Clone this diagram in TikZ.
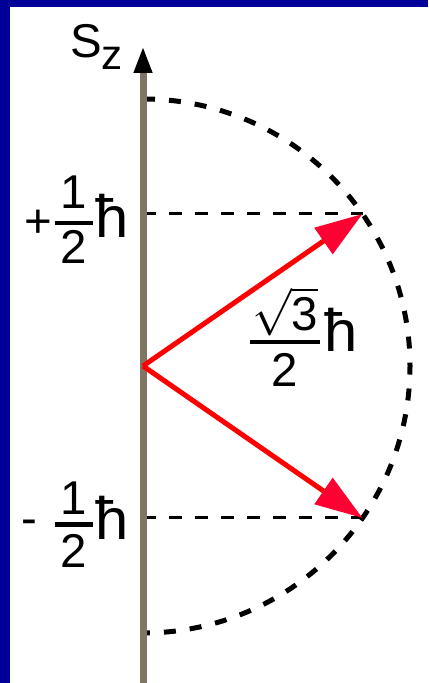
\documentclass[tikz,border=0pt]{standalone}
\usepackage{fix-cm}
\usepackage{amsmath}
\usepackage{fontspec}
\setmainfont{Liberation Sans}
\usetikzlibrary{arrows.meta}

\definecolor{frameblue}{RGB}{0,0,153}
\definecolor{axisgray}{RGB}{128,117,99}
\definecolor{vecred}{RGB}{255,0,0}
\definecolor{tipred}{RGB}{255,0,51}

\tikzset{
  lbl/.style={inner sep=0pt, anchor=base, font=\fontsize{27}{30}\selectfont},
  hb/.style={lbl, font=\fontsize{34}{36}\selectfont},
  fracbar/.style={line width=0.08cm},
  axis/.style={line width=0.14cm, draw=axisgray, -{Triangle[black, length=0.54cm, width=0.34cm]}},
  vec/.style={line width=0.1cm, draw=vecred, -{Triangle[tipred, length=0.95cm, width=0.62cm]}},
  circdash/.style={line width=0.1cm, dash pattern=on 0.24cm off 0.28cm},
  hdash/.style={line width=0.06cm, dash pattern=on 0.26cm off 0.26cm}
}

\begin{document}
\begin{tikzpicture}
\useasboundingbox (-2.86,-6.34) rectangle (5.70,7.32);
\fill[white] (-2.86,-6.34) rectangle (5.70,7.32);
\fill[frameblue] (-2.86,-6.34) rectangle (-2.66,7.32);
\fill[frameblue] (-2.86,7.18) rectangle (5.70,7.32);

\coordinate (o) at (0,0);
\coordinate (uptick) at (0,3.04);
\coordinate (dntick) at (0,-3.04);
\coordinate (up) at (4.39,3.04);
\coordinate (dn) at (4.39,-3.04);
\coordinate (bottom) at (0,-6.34);
\coordinate (top) at (0,6.4);

\draw[circdash] (0,5.34) arc[start angle=90, end angle=-90, radius=5.34];
\draw[hdash] (uptick) -- (up);
\draw[hdash] (dntick) -- (dn);
\draw[axis] (bottom) -- (top);
\draw[vec] (o) -- (up);
\draw[vec] (o) -- (dn);

\node[lbl, anchor=base west] (sz) at (-1.46,6.16) {S\raisebox{-0.25em}{\fontsize{24}{26}\selectfont z}};

\node[lbl] (plus) at (-2.10,2.56) {+};
\node[lbl] (upnum) at (-1.38,3.14) {1};
\node[lbl] (upden) at (-1.38,2.04) {2};
\node[hb] (uphb) at (-0.62,2.56) {ħ};
\draw[fracbar] (-1.76,2.86) -- (-1.00,2.86);

\node[lbl] (minus) at (-2.27,-3.38) {-};
\node[lbl] (dnnum) at (-1.38,-2.98) {1};
\node[lbl] (dnden) at (-1.38,-4.02) {2};
\node[hb] (dnhb) at (-0.62,-3.46) {ħ};
\draw[fracbar] (-1.76,-3.17) -- (-1.00,-3.17);

\node[lbl] (root) at (2.84,0.70) {$\sqrt{\text{3}}$};
\node[lbl] (midden) at (2.84,-0.42) {2};
\node[hb] (midhb) at (3.97,0.28) {ħ};
\draw[fracbar] (2.14,0.48) -- (3.54,0.48);
\end{tikzpicture}
\end{document}
